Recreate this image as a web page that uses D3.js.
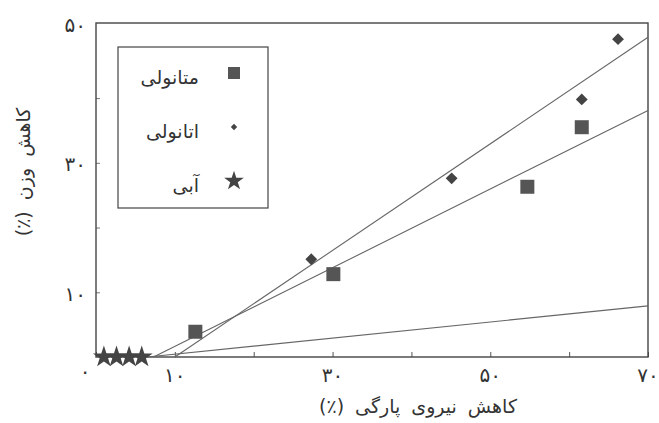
<!DOCTYPE html>
<html>
<head>
<meta charset="utf-8">
<script src="https://cdn.jsdelivr.net/npm/d3@7"></script>
<style>
  body { margin: 0; background: #fff; }
  text { font-family: "DejaVu Sans", sans-serif; fill: #333; }
</style>
</head>
<body>
<svg id="chart" width="659" height="423"></svg>
<script>
// values
const methanolX = [12.6, 30.1, 54.7, 61.6];
const methanolY = [3.9, 12.8, 26.3, 35.5];
const ethanolX = [27.3, 45.1, 61.6, 66.2];
const ethanolY = [15.1, 27.6, 39.8, 49.1];
const waterX = [1.0, 2.6, 4.2, 5.8];
const waterY = [0, 0, 0, 0];
// fitted lines: [x0, y0, x1, y1]
const methanolFit = [7.3, 0, 70, 38.1];
const ethanolFit = [10, 0, 70, 49.4];
const waterFit = [6.5, 0, 70, 7.9];

const xTicks = [0, 10, 20, 30, 40, 50, 60, 70];
const xLabels = [10, 30, 50, 70];
const yTicks = [10, 20, 30, 40];
const yLabels = [10, 30, 50];

const legendNames = ["متانولی", "اتانولی", "آبی"];
const xTitle = "کاهش نیروی پارگی (٪)";
const yTitle = "کاهش وزن (٪)";

const fa = d => String(d).replace(/\d/g, c => "۰۱۲۳۴۵۶۷۸۹"[+c]);

const margin = { left: 96, right: 11, top: 23, bottom: 66 };
const width = 659, height = 423;
const svg = d3.select("#chart");

const x = d3.scaleLinear().domain([0, 70]).range([margin.left, width - margin.right]);
const y = d3.scaleLinear().domain([0, 51.6]).range([height - margin.bottom, margin.top]);

// ticks pointing inward
svg.append("g")
  .attr("transform", "translate(0," + y(0) + ")")
  .call(d3.axisBottom(x).tickValues(xTicks).tickSize(-5).tickFormat(""))
  .call(g => g.select(".domain").remove())
  .selectAll("line").attr("stroke", "#555");

svg.append("g")
  .attr("transform", "translate(" + x(0) + ",0)")
  .call(d3.axisLeft(y).tickValues(yTicks).tickSize(-4).tickFormat(""))
  .call(g => g.select(".domain").remove())
  .selectAll("line").attr("stroke", "#777");

// frame
svg.append("rect")
  .attr("x", x(0)).attr("y", y.range()[1])
  .attr("width", x(70) - x(0)).attr("height", y(0) - y.range()[1])
  .attr("fill", "none").attr("stroke", "#444").attr("stroke-width", 1.4);

// tick labels
svg.selectAll(".xl").data(xLabels).enter().append("text")
  .attr("x", d => x(d)).attr("y", 376)
  .attr("text-anchor", "middle").attr("dominant-baseline", "middle")
  .attr("font-size", 20).text(fa);
svg.append("text").attr("x", 85).attr("y", 372)
  .attr("text-anchor", "middle").attr("dominant-baseline", "middle")
  .attr("font-size", 20).text(fa(0));

svg.selectAll(".yl").data(yLabels).enter().append("text")
  .attr("x", 86).attr("y", d => d === 50 ? 26 : y(d) + 3)
  .attr("text-anchor", "end").attr("dominant-baseline", "middle")
  .attr("font-size", 20).text(fa);

// axis titles
svg.append("text").attr("x", 418).attr("y", 407)
  .attr("text-anchor", "middle").attr("dominant-baseline", "middle")
  .attr("font-size", 19).attr("word-spacing", 5).attr("direction", "rtl").text(xTitle);
svg.append("text")
  .attr("transform", "translate(24,172) rotate(-90)")
  .attr("text-anchor", "middle").attr("dominant-baseline", "middle")
  .attr("font-size", 19).attr("word-spacing", 5).attr("direction", "rtl").text(yTitle);

// fitted lines
[methanolFit, ethanolFit, waterFit].forEach(f => {
  svg.append("line")
    .attr("x1", x(f[0])).attr("y1", y(f[1]))
    .attr("x2", x(f[2])).attr("y2", y(f[3]))
    .attr("stroke", "#666").attr("stroke-width", 1.1);
});

// markers
const sym = (type, size) => d3.symbol().type(type).size(size)();
function drawPoints(xs, ys, path, fill, rot) {
  svg.selectAll(null).data(xs).enter().append("path")
    .attr("d", path)
    .attr("transform", (d, i) => "translate(" + x(d) + "," + y(ys[i]) + ") rotate(" + (rot || 0) + ")")
    .attr("fill", fill);
}
drawPoints(waterX, waterY, sym(d3.symbolStar, 150), "#444");
drawPoints(methanolX, methanolY, sym(d3.symbolSquare, 196), "#555");
drawPoints(ethanolX, ethanolY, sym(d3.symbolSquare, 70), "#444", 45);

// legend
const lg = svg.append("g");
lg.append("rect").attr("x", 118).attr("y", 47).attr("width", 150).attr("height", 161)
  .attr("fill", "#fff").attr("stroke", "#444").attr("stroke-width", 1.2);
const legendSyms = [sym(d3.symbolSquare, 144), sym(d3.symbolSquare, 20), sym(d3.symbolStar, 120)];
const legendRot = [0, 45, 0];
const legendY = [73, 127, 181];
legendNames.forEach((name, i) => {
  lg.append("path").attr("d", legendSyms[i])
    .attr("transform", "translate(234," + legendY[i] + ") rotate(" + legendRot[i] + ")")
    .attr("fill", i === 0 ? "#555" : "#444");
  lg.append("text").attr("x", 199).attr("y", legendY[i] + 5)
    .attr("text-anchor", "end").attr("dominant-baseline", "middle")
    .attr("font-size", 19).text(name);
});
</script>
</body>
</html>
